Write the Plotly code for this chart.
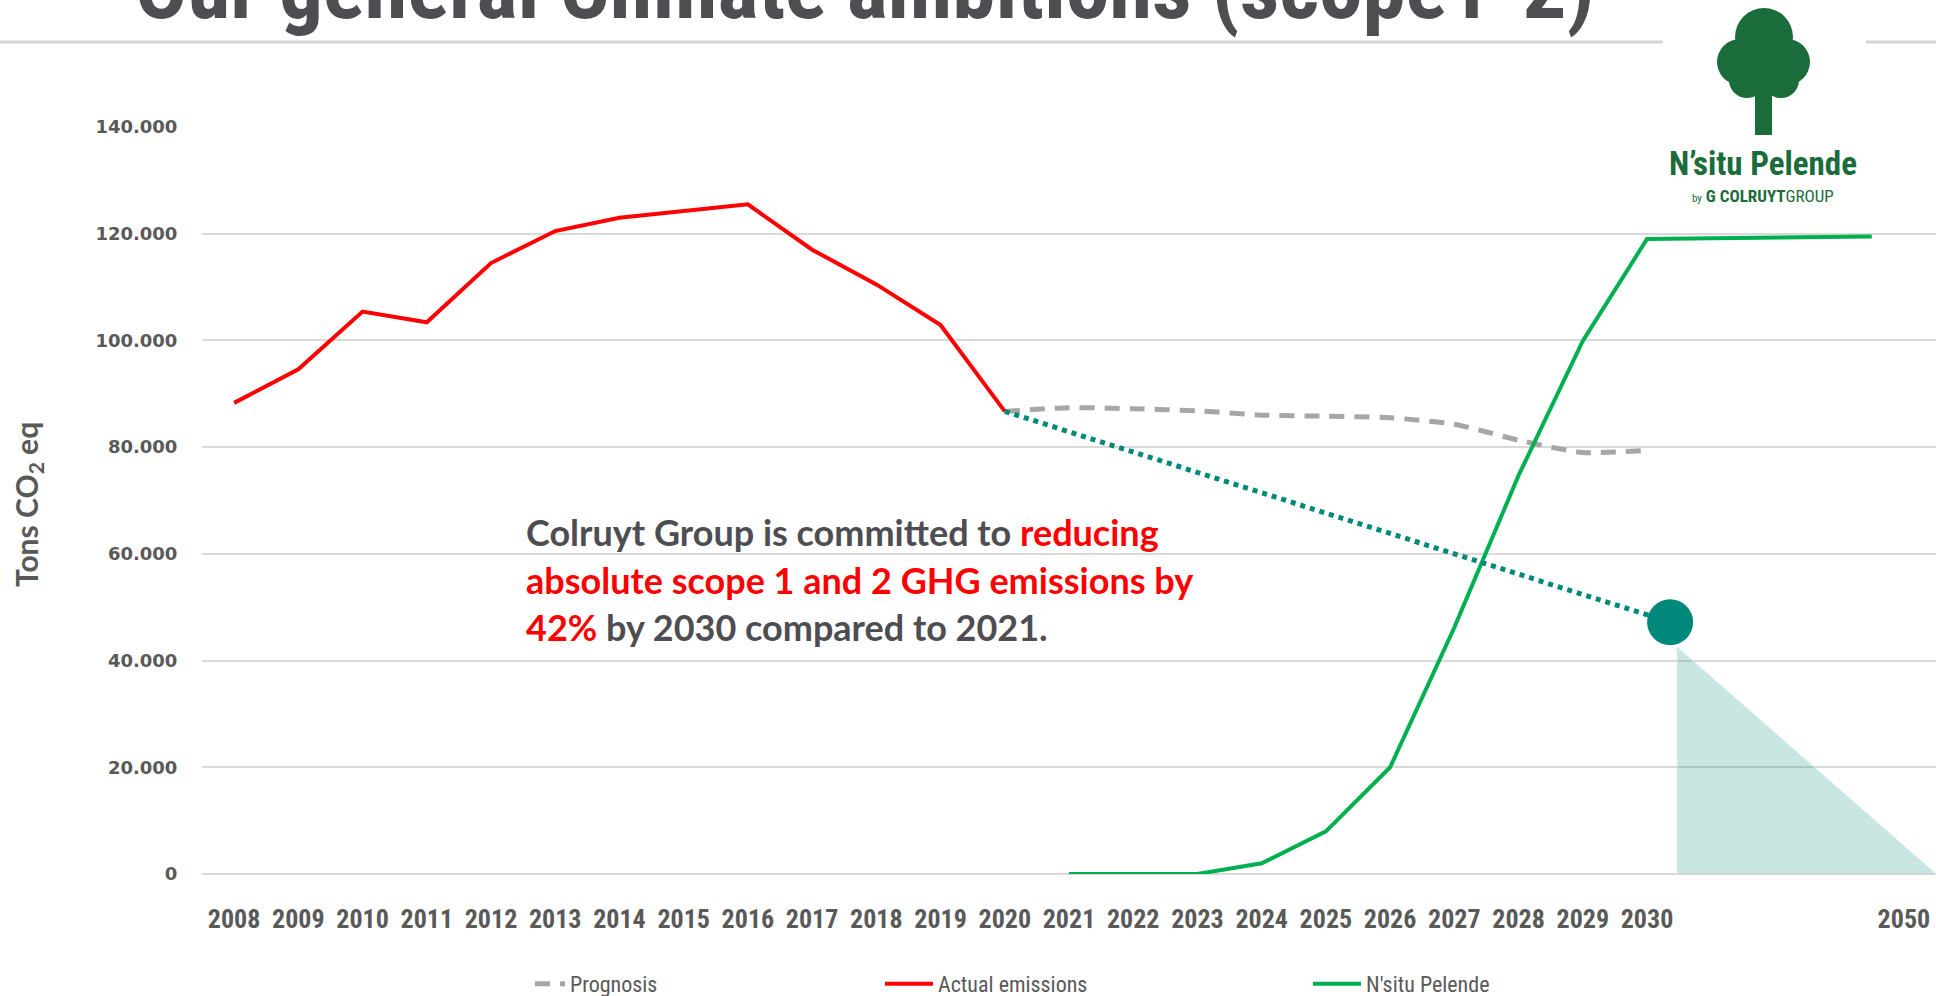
import plotly.graph_objects as go

# ---------------- data ----------------
actual_years = list(range(2008, 2021))
actual_values = [88300, 94600, 105400, 103400, 114500, 120500, 123000,
                 124200, 125500, 117000, 110500, 102900, 86700]

prognosis_years = list(range(2020, 2031))
prognosis_values = [86700, 87400, 87200, 86800, 86000, 85800, 85500,
                    84300, 81300, 79000, 79400]

nsitu_years = list(range(2021, 2031))
nsitu_values = [0, 0, 0, 2000, 8000, 20000, 46200, 74700, 99900, 119000]
nsitu_hold_value = 119500

target_from_year = 2020
target_from_value = 86700
target_value = 47200
target_triangle_top = 42500

tick_years = list(range(2008, 2031)) + [2050]
y_ticks = [0, 20000, 40000, 60000, 80000, 100000, 120000, 140000]

# ---------------- layout constants ----------------
W, H = 1936, 996
PL, PR, PT, PB = 202, 1936, 127, 874
GREEN = "#00b050"
RED = "#ff0000"
GRAY = "#a6a6a6"
TEAL = "#00887a"
DARK = "#4d4d52"
TICK = "#595959"
TREE = "#1b6c3b"
COND = "Liberation Sans Narrow, Roboto Condensed, Lato, sans-serif"


def pos(year):
    # linear per year until 2030, compressed (5 years per slot) afterwards
    return year - 2008 if year <= 2030 else 22 + (year - 2030) / 5


def px(x):
    return (x - PL) / (PR - PL)


def py(y):
    return (PB - y) / (PB - PT)


TARGET_POS = 22.36
TRI_LEFT = 22.47
TRI_RIGHT = 26.5
HOLD_END = 25.5

fig = go.Figure()

# reduction triangle (overlay)
fig.add_trace(go.Scatter(
    x=[TRI_LEFT, TRI_LEFT, TRI_RIGHT, TRI_LEFT],
    y=[target_triangle_top, 0, 0, target_triangle_top],
    fill="toself", fillcolor="rgba(0,136,122,0.21)",
    line=dict(color="rgba(210,236,233,1)", width=1),
    mode="lines", showlegend=False, hoverinfo="skip"))

fig.add_trace(go.Scatter(
    x=[pos(y) for y in prognosis_years], y=prognosis_values,
    mode="lines", name="Prognosis", legend="legend",
    line=dict(color=GRAY, width=5, dash="15px,10px", shape="spline", smoothing=0.6)))

fig.add_trace(go.Scatter(
    x=[pos(y) for y in actual_years], y=actual_values,
    mode="lines", name="Actual emissions", legend="legend2",
    line=dict(color=RED, width=4)))

fig.add_trace(go.Scatter(
    x=[pos(y) for y in nsitu_years] + [HOLD_END],
    y=nsitu_values + [nsitu_hold_value],
    mode="lines", name="N'situ Pelende", legend="legend3",
    line=dict(color=GREEN, width=4)))

# target dotted line + marker
fig.add_trace(go.Scatter(
    x=[pos(target_from_year), TARGET_POS], y=[target_from_value, target_value],
    mode="lines", line=dict(color=TEAL, width=5, dash="dot"),
    showlegend=False, hoverinfo="skip"))
fig.add_trace(go.Scatter(
    x=[TARGET_POS], y=[target_value], mode="markers",
    marker=dict(color=TEAL, size=46, line=dict(width=0)),
    showlegend=False, hoverinfo="skip"))

shapes = []
# slide title underline
shapes.append(dict(type="line", xref="paper", yref="paper",
                   x0=px(0), x1=px(W), y0=py(42), y1=py(42),
                   line=dict(color="#d4d4d4", width=3), layer="above"))
# logo white box
shapes.append(dict(type="rect", xref="paper", yref="paper",
                   x0=px(1663), x1=px(1866), y0=py(-5), y1=py(224),
                   fillcolor="white", line=dict(width=0), layer="above"))
# tree
for cx, cy, r in [(1764, 37, 29), (1740, 62, 23), (1787, 62, 23),
                  (1747, 80, 18), (1781, 80, 18), (1764, 68, 27)]:
    shapes.append(dict(type="circle", xref="paper", yref="paper",
                       x0=px(cx - r), x1=px(cx + r), y0=py(cy + r), y1=py(cy - r),
                       fillcolor=TREE, line=dict(width=0), layer="above"))
shapes.append(dict(type="rect", xref="paper", yref="paper",
                   x0=px(1755), x1=px(1772), y0=py(135), y1=py(90),
                   fillcolor=TREE, line=dict(width=0), layer="above"))

annotations = []
annotations.append(dict(
    text="<b>Our general Climate ambitions (scope1-2)</b>",
    xref="paper", yref="paper", x=px(133), y=py(-12), xanchor="left", yanchor="middle",
    showarrow=False, font=dict(family=COND, size=87, color=DARK)))
annotations.append(dict(
    text="<b>N’situ Pelende</b>", xref="paper", yref="paper",
    x=px(1763), y=py(164), xanchor="center", yanchor="middle", showarrow=False,
    font=dict(family=COND, size=33, color=TREE)))
annotations.append(dict(
    text="<span style='font-size:11px'>by</span> <b>G COLRUYT</b>GROUP", xref="paper", yref="paper",
    x=px(1763), y=py(196), xanchor="center", yanchor="middle", showarrow=False,
    font=dict(family=COND, size=17, color=TREE)))
annotations.append(dict(
    text="<b>Tons CO<sub>2</sub> eq</b>", xref="paper", yref="paper",
    x=px(28), y=py(505), xanchor="center", yanchor="middle", textangle=-90,
    showarrow=False, font=dict(family="Lato", size=30, color=TICK)))

lines = [
    "<b>Colruyt Group is committed to <span style='color:#ff0000'>reducing</span></b>",
    "<b><span style='color:#ff0000'>absolute scope 1 and 2 GHG emissions by</span></b>",
    "<b><span style='color:#ff0000'>42%</span> by 2030 compared to 2021.</b>",
]
for i, t in enumerate(lines):
    annotations.append(dict(
        text=t, xref="paper", yref="paper", x=px(524), y=py(532 + 47.5 * i),
        xanchor="left", yanchor="middle", showarrow=False,
        font=dict(family="Lato", size=36, color=DARK)))

LEG_Y = 1 - 984 / H  # container fraction
leg_common = dict(orientation="h", xanchor="left", yanchor="middle",
                  yref="container", y=LEG_Y,
                  font=dict(family=COND, size=22, color=TICK),
                  bgcolor="rgba(0,0,0,0)")

fig.update_layout(
    width=W, height=H,
    margin=dict(l=PL, r=W - PR, t=PT, b=H - PB, pad=0),
    paper_bgcolor="white", plot_bgcolor="white",
    separators=",.",
    shapes=shapes, annotations=annotations,
    xaxis=dict(range=[-0.5, 26.5], tickmode="array",
               tickvals=[pos(y) for y in tick_years],
               ticktext=[str(y) for y in tick_years],
               showgrid=False, zeroline=False, showline=False,
               ticks="outside", ticklen=22, tickcolor="rgba(0,0,0,0)",
               tickfont=dict(family=COND, size=26, color=TICK, weight="bold")),
    yaxis=dict(range=[0, 140000], tickmode="array", tickvals=y_ticks,
               tickformat=",d", showgrid=True, gridcolor="#d9d9d9", gridwidth=2,
               zeroline=True, zerolinecolor="#d9d9d9", zerolinewidth=2,
               showline=False, ticks="outside", ticklen=20, tickcolor="rgba(0,0,0,0)",
               tickfont=dict(family="DejaVu Sans", size=18, color=TICK, weight="bold")),
    legend=dict(x=px(530), itemwidth=30, **leg_common),
    legend2=dict(x=px(880), itemwidth=48, **leg_common),
    legend3=dict(x=px(1308), itemwidth=48, **leg_common),
)

fig.write_html("out.html")
